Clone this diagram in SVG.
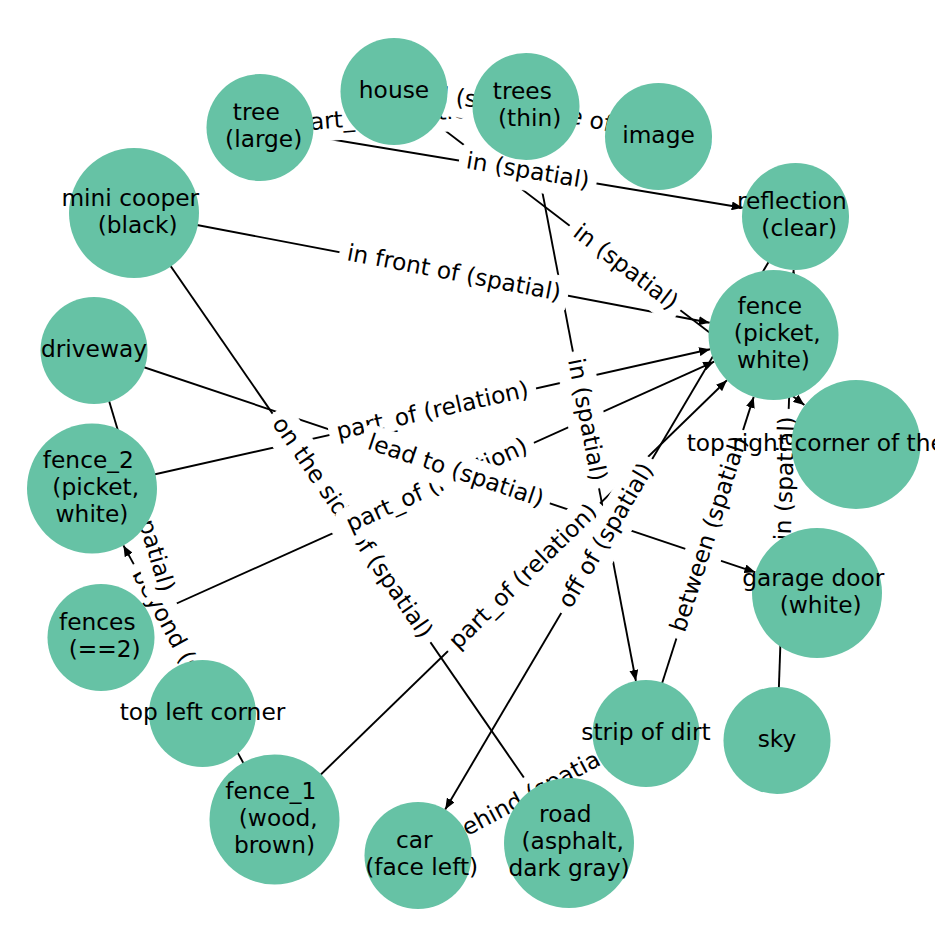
<svg xmlns="http://www.w3.org/2000/svg" width="948" height="948" viewBox="0 0 948 948">
<defs>
<style>
.n{fill:#66c2a5}
.t{font-family:'DejaVu Sans','Noto Sans',sans-serif;font-size:23.3px;fill:#000;text-anchor:middle}
.e{stroke:#000;stroke-width:1.9;fill:none;marker-end:url(#ah)}
.b{fill:#fff;stroke:#fff}
</style>
<marker id="ah" viewBox="0 0 11 9" markerUnits="userSpaceOnUse" markerWidth="11" markerHeight="9" refX="11" refY="4.5" orient="auto">
<path d="M0,0 L11,4.5 L0,9 z" fill="#000"/>
</marker>
<clipPath id="cr"><rect x="0" y="0" width="935" height="948"/></clipPath>
</defs>
<rect width="948" height="948" fill="#fff"/>
<g id="connectors">
<line class="e" x1="260" y1="127.5" x2="742.7" y2="207.7"/>
<line class="e" x1="260" y1="127.5" x2="472.7" y2="110.7"/>
<line class="e" x1="394" y1="91.5" x2="472.8" y2="100.5"/>
<line class="e" x1="394" y1="91.5" x2="804.4" y2="405"/>
<line class="e" x1="526" y1="106.5" x2="635.9" y2="681"/>
<line class="e" x1="526" y1="106.5" x2="606.3" y2="124.7"/>
<line class="e" x1="134" y1="213" x2="709.7" y2="322.8"/>
<line class="e" x1="134" y1="213" x2="532.1" y2="789.5"/>
<line class="e" x1="94" y1="350.5" x2="755.4" y2="572.3"/>
<line class="e" x1="94" y1="350.5" x2="187.2" y2="662.2"/>
<line class="e" x1="92" y1="488.5" x2="710.1" y2="349.3"/>
<line class="e" x1="101" y1="637.5" x2="714.2" y2="361.7"/>
<line class="e" x1="274.5" y1="819.5" x2="726.9" y2="380.3"/>
<line class="e" x1="274.5" y1="819.5" x2="123.4" y2="545.4"/>
<line class="e" x1="795.5" y1="216.5" x2="445.2" y2="809.4"/>
<line class="e" x1="777" y1="740.5" x2="793.6" y2="270"/>
<line class="e" x1="646" y1="733.5" x2="753.7" y2="396.9"/>
<line class="e" x1="418" y1="855.5" x2="598.8" y2="758.7"/>
</g>
<g id="edge-labels">
<g transform="translate(527.75,172) rotate(9.44)"><rect class="b" x="-69.2" y="-18.3" width="138.4" height="36.6" rx="7"/><text class="t" y="6.4">in (spatial)</text></g>
<g transform="translate(584,119.5) rotate(12.76)"><rect class="b" x="-138.5" y="-18.3" width="276.9" height="36.6" rx="7"/><text class="t" y="6.4">on the side of (spatial)</text></g>
<g transform="translate(393,117) rotate(-4.51)"><rect class="b" x="-105.4" y="-18.3" width="210.8" height="36.6" rx="7"/><text class="t" y="6.4">part_of (relation)</text></g>
<g transform="translate(460,99) rotate(6.48)"><rect class="b" x="-98.6" y="-18.3" width="197.1" height="36.6" rx="7"/><text class="t" y="6.4">behind (spatial)</text></g>
<g transform="translate(625,268) rotate(37.38)"><rect class="b" x="-69.2" y="-18.3" width="138.4" height="36.6" rx="7"/><text class="t" y="6.4">in (spatial)</text></g>
<g transform="translate(586,420) rotate(79.17)"><rect class="b" x="-69.2" y="-18.3" width="138.4" height="36.6" rx="7"/><text class="t" y="6.4">in (spatial)</text></g>
<g transform="translate(453.75,274) rotate(10.8)"><rect class="b" x="-115.8" y="-18.3" width="231.6" height="36.6" rx="7"/><text class="t" y="6.4">in front of (spatial)</text></g>
<g transform="translate(351.5,528) rotate(55.37)"><rect class="b" x="-138.5" y="-18.3" width="276.9" height="36.6" rx="7"/><text class="t" y="6.4">on the side of (spatial)</text></g>
<g transform="translate(432.75,411.75) rotate(-12.69)"><rect class="b" x="-105.4" y="-18.3" width="210.8" height="36.6" rx="7"/><text class="t" y="6.4">part_of (relation)</text></g>
<g transform="translate(437.25,486.25) rotate(-24.22)"><rect class="b" x="-105.4" y="-18.3" width="210.8" height="36.6" rx="7"/><text class="t" y="6.4">part_of (relation)</text></g>
<g transform="translate(524,577.25) rotate(-44.16)"><rect class="b" x="-105.4" y="-18.3" width="210.8" height="36.6" rx="7"/><text class="t" y="6.4">part_of (relation)</text></g>
<g transform="translate(455.5,471.75) rotate(18.54)"><rect class="b" x="-99" y="-18.3" width="197.9" height="36.6" rx="7"/><text class="t" y="6.4">lead to (spatial)</text></g>
<g transform="translate(183.25,654) rotate(61.13)"><rect class="b" x="-102" y="-18.3" width="203.9" height="36.6" rx="7"/><text class="t" y="6.4">beyond (spatial)</text></g>
<g transform="translate(148.25,532) rotate(73.36)"><rect class="b" x="-69.2" y="-18.3" width="138.4" height="36.6" rx="7"/><text class="t" y="6.4">in (spatial)</text></g>
<g transform="translate(606.75,536) rotate(-59.43)"><rect class="b" x="-88.9" y="-18.3" width="177.7" height="36.6" rx="7"/><text class="t" y="6.4">off of (spatial)</text></g>
<g transform="translate(786.25,478.5) rotate(-87.98)"><rect class="b" x="-69.2" y="-18.3" width="138.4" height="36.6" rx="7"/><text class="t" y="6.4">in (spatial)</text></g>
<g transform="translate(709.75,534.25) rotate(-72.26)"><rect class="b" x="-109" y="-18.3" width="217.9" height="36.6" rx="7"/><text class="t" y="6.4">between (spatial)</text></g>
<g transform="translate(532,794.5) rotate(-28.15)"><rect class="b" x="-98.6" y="-18.3" width="197.1" height="36.6" rx="7"/><text class="t" y="6.4">behind (spatial)</text></g>
</g>
<g id="house"><circle class="n" cx="394" cy="91.5" r="53.5"/></g>
<g id="trees"><circle class="n" cx="526" cy="106.5" r="53.5"/></g>
<g id="image"><circle class="n" cx="658.5" cy="136.5" r="53.5"/></g>
<g id="tree"><circle class="n" cx="260" cy="127.5" r="53.5"/></g>
<g id="reflection"><circle class="n" cx="795.5" cy="216.5" r="53.5"/></g>
<g id="mini-cooper"><circle class="n" cx="134" cy="213" r="65"/></g>
<g id="fence"><circle class="n" cx="773.5" cy="335" r="65"/></g>
<g id="driveway"><circle class="n" cx="94" cy="350.5" r="53.5"/></g>
<g id="fence_2"><circle class="n" cx="92" cy="488.5" r="65"/></g>
<g id="top-right-corner"><circle class="n" cx="856" cy="444.5" r="64.5"/></g>
<g id="garage-door"><circle class="n" cx="817" cy="593" r="65"/></g>
<g id="fences"><circle class="n" cx="101" cy="637.5" r="53.5"/></g>
<g id="top-left-corner"><circle class="n" cx="202.5" cy="713.5" r="53.5"/></g>
<g id="strip-of-dirt"><circle class="n" cx="646" cy="733.5" r="53.5"/></g>
<g id="sky"><circle class="n" cx="777" cy="740.5" r="53.5"/></g>
<g id="fence_1"><circle class="n" cx="274.5" cy="819.5" r="65"/></g>
<g id="car"><circle class="n" cx="418" cy="855.5" r="53.5"/></g>
<g id="road"><circle class="n" cx="569" cy="843" r="65"/></g>
<g id="node-labels">
<text class="t" x="394" y="97.9">house</text>
<text class="t" x="522.3" y="99.4">trees</text><text class="t" x="529.7" y="126.4">(thin)</text>
<text class="t" x="658.5" y="142.9">image</text>
<text class="t" x="256.3" y="120.4">tree</text><text class="t" x="263.7" y="147.4">(large)</text>
<text class="t" x="791.8" y="209.4">reflection</text><text class="t" x="799.2" y="236.4">(clear)</text>
<text class="t" x="130.3" y="205.9">mini cooper</text><text class="t" x="137.7" y="232.9">(black)</text>
<text class="t" x="769.8" y="314.4">fence</text><text class="t" x="777.2" y="341.4">(picket,</text><text class="t" x="773.5" y="368.4">white)</text>
<text class="t" x="94" y="356.9">driveway</text>
<text class="t" x="88.3" y="467.9">fence_2</text><text class="t" x="95.7" y="494.9">(picket,</text><text class="t" x="92" y="521.9">white)</text>
<text class="t" x="686.7" y="450.9" style="text-anchor:start" clip-path="url(#cr)">top right corner of the</text>
<text class="t" x="813.3" y="585.9">garage door</text><text class="t" x="820.7" y="612.9">(white)</text>
<text class="t" x="97.3" y="630.4">fences</text><text class="t" x="104.7" y="657.4">(==2)</text>
<text class="t" x="202.5" y="719.9">top left corner</text>
<text class="t" x="646" y="739.9">strip of dirt</text>
<text class="t" x="777" y="746.9">sky</text>
<text class="t" x="270.8" y="798.9">fence_1</text><text class="t" x="278.2" y="825.9">(wood,</text><text class="t" x="274.5" y="852.9">brown)</text>
<text class="t" x="414.3" y="848.4">car</text><text class="t" x="421.7" y="875.4">(face left)</text>
<text class="t" x="565.3" y="822.4">road</text><text class="t" x="572.7" y="849.4">(asphalt,</text><text class="t" x="569" y="876.4">dark gray)</text>
</g>
</svg>
